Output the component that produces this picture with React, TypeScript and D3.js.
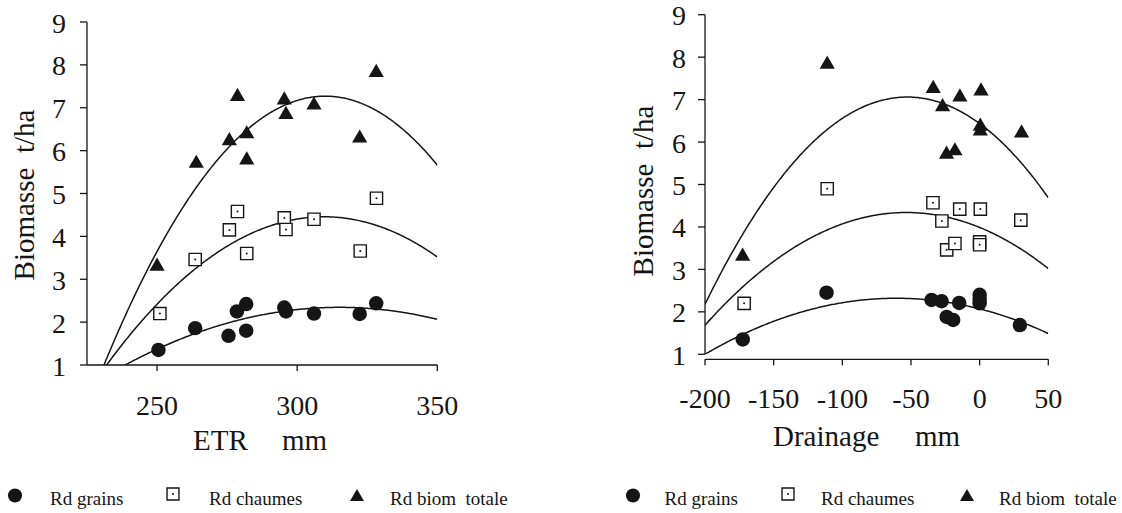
import React from "react";
import * as d3 from "d3";

// shared axis ticks and legend
const biomasseTicks = [1, 2, 3, 4, 5, 6, 7, 8, 9];
const etrTicks = [250, 300, 350];
const drainageTicks = [-200, -150, -100, -50, 0, 50];
const seriesNames = ["Rd grains", "Rd chaumes", "Rd biom  totale"];

// left panel : biomasse vs ETR (mm)
const grainsEtr = [250.5, 263.6, 275.5, 278.5, 281.8, 281.8, 295.4, 296, 306, 322.3, 328.2];
const grainsEtrY = [1.35, 1.86, 1.68, 2.25, 2.42, 1.8, 2.34, 2.25, 2.2, 2.19, 2.44];
const chaumesEtr = [251, 263.6, 275.8, 278.7, 282, 295.4, 296, 306, 322.5, 328.3];
const chaumesEtrY = [2.2, 3.46, 4.15, 4.58, 3.6, 4.43, 4.16, 4.4, 3.66, 4.89];
const totaleEtr = [250, 264, 275.8, 278.7, 282, 282, 295.4, 296, 306, 322.3, 328.2];
const totaleEtrY = [3.3, 5.7, 6.23, 7.26, 6.39, 5.78, 7.18, 6.84, 7.06, 6.29, 7.82];

// right panel : biomasse vs drainage (mm)
const grainsDrain = [-172.5, -111.5, -35, -27.7, -24, -19.3, -14.9, 0, 0, 0, 29.3];
const grainsDrainY = [1.35, 2.45, 2.28, 2.25, 1.88, 1.81, 2.21, 2.4, 2.3, 2.2, 1.69];
const chaumesDrain = [-171.5, -111, -34, -27.5, -24, -18, -14.5, 0.5, 0, 0, 30];
const chaumesDrainY = [2.2, 4.9, 4.57, 4.14, 3.46, 3.61, 4.42, 4.42, 3.65, 3.58, 4.16];
const totaleDrain = [-172.6, -111, -33.8, -27, -24.1, -18, -14.4, 1, 0.5, 0.5, 30.5];
const totaleDrainY = [3.31, 7.83, 7.26, 6.83, 5.71, 5.79, 7.06, 7.2, 6.37, 6.26, 6.21];

// polynomial trend lines: [vertex x, vertex y, curvature]
const grainsEtrTrend = [315.1, 2.345, -0.00023];
const chaumesEtrTrend = [309.6, 4.457, -0.000574];
const totaleEtrTrend = [310, 7.27, -0.001006];
const grainsDrainTrend = [-60.6, 2.32, -0.0000679];
const chaumesDrainTrend = [-53.4, 4.34, -0.0001235];
const totaleDrainTrend = [-52.7, 7.06, -0.000225];

const FONT = "Liberation Serif, Tinos, Times New Roman, DejaVu Serif, serif";
const INK = "#151515";

const shapes = [d3.symbolCircle, d3.symbolSquare, d3.symbolTriangle];
const sizes = [165, 170, 100];

function Marker({ kind, x, y, scale = 1 }) {
  const d = d3.symbol(shapes[kind], sizes[kind] * scale)();
  if (kind === 1) {
    return (
      <g transform={`translate(${x},${y})`}>
        <path d={d3.symbol(d3.symbolSquare, 150 * scale)()} fill="white" stroke={INK} strokeWidth={1.4} />
        <circle r={1} fill={INK} />
      </g>
    );
  }
  return <path d={d} transform={`translate(${x},${y})`} fill={INK} />;
}

function Panel({ id, x, y, xAxisY, xTicks, series, trends, xTitle, titleY, xLabelY, yLabelX, yTitleX, yTitleY, legend }) {
  const [x0, x1] = x.range();
  const [y0, y1] = y.range();
  const [d0, d1] = x.domain();
  const curve = d3
    .line()
    .x((p) => x(p[0]))
    .y((p) => y(p[1]));
  const samples = d3.range(0, 301).map((i) => d0 + ((d1 - d0) * i) / 300);
  return (
    <g>
      <defs>
        <clipPath id={id}>
          <rect x={x0} y={y1} width={x1 - x0} height={y0 - y1} />
        </clipPath>
      </defs>
      {/* y axis */}
      <line x1={x0} x2={x0} y1={y1} y2={y0} stroke={INK} strokeWidth={1.3} />
      {biomasseTicks.map((t) => (
        <g key={t}>
          <line x1={x0 - 7} x2={x0} y1={y(t)} y2={y(t)} stroke={INK} strokeWidth={1.3} />
          <text x={yLabelX} y={y(t) + 10.5} textAnchor="end" fontSize={28}>
            {t}
          </text>
        </g>
      ))}
      <text
        transform={`translate(${yTitleX},${yTitleY}) rotate(-90)`}
        textAnchor="middle"
        fontSize={29}
        style={{ whiteSpace: "pre" }}
      >
        {"Biomasse  t/ha"}
      </text>
      {/* x axis */}
      <line x1={x0} x2={x1} y1={xAxisY} y2={xAxisY} stroke={INK} strokeWidth={1.3} />
      {xTicks.map((t) => (
        <g key={t}>
          <line x1={x(t)} x2={x(t)} y1={xAxisY} y2={xAxisY + 6} stroke={INK} strokeWidth={1.3} />
          <text x={x(t)} y={xLabelY} textAnchor="middle" fontSize={28}>
            {t}
          </text>
        </g>
      ))}
      {xTitle.map((w) => (
        <text key={w.text} x={w.x} y={titleY} fontSize={29}>
          {w.text}
        </text>
      ))}
      {/* trend curves */}
      <g clipPath={`url(#${id})`}>
        {trends.map((tr, i) => (
          <path
            key={i}
            d={curve(samples.map((v) => [v, tr[1] + tr[2] * (v - tr[0]) ** 2]))}
            fill="none"
            stroke={INK}
            strokeWidth={1.5}
          />
        ))}
      </g>
      {/* points */}
      {series.map((s, k) =>
        s.xs.map((v, i) => <Marker key={`${k}-${i}`} kind={k} x={x(v)} y={y(s.ys[i])} />)
      )}
      {/* legend */}
      {legend.map((l, k) => (
        <g key={k}>
          <Marker kind={k} x={l.mx} y={l.my} scale={k === 2 ? 0.85 : 0.95} />
          <text x={l.tx} y={505} fontSize={19} style={{ whiteSpace: "pre" }}>
            {seriesNames[k]}
          </text>
        </g>
      ))}
    </g>
  );
}

export default function App() {
  const xEtr = d3.scaleLinear().domain([225, 350]).range([87, 437.3]);
  const yEtr = d3.scaleLinear().domain([1, 9]).range([365, 22]);
  const xDrain = d3.scaleLinear().domain([-200, 50]).range([705, 1048.3]);
  const yDrain = d3.scaleLinear().domain([1, 9]).range([354.3, 14.7]);

  return (
    <svg
      width={1122}
      height={513}
      style={{ position: "absolute", left: 0, top: 0, background: "white", fontFamily: FONT }}
      fill={INK}
    >
      <Panel
        id="clip-etr"
        x={xEtr}
        y={yEtr}
        xAxisY={365}
        xTicks={etrTicks}
        series={[
          { xs: grainsEtr, ys: grainsEtrY },
          { xs: chaumesEtr, ys: chaumesEtrY },
          { xs: totaleEtr, ys: totaleEtrY },
        ]}
        trends={[grainsEtrTrend, chaumesEtrTrend, totaleEtrTrend]}
        xTitle={[
          { text: "ETR", x: 193 },
          { text: "mm", x: 282 },
        ]}
        titleY={450}
        xLabelY={415}
        yLabelX={66}
        yTitleX={34}
        yTitleY={195}
        legend={[
          { mx: 15, my: 495.5, tx: 50 },
          { mx: 173, my: 494, tx: 209 },
          { mx: 357, my: 497, tx: 390 },
        ]}
      />
      <Panel
        id="clip-drain"
        x={xDrain}
        y={yDrain}
        xAxisY={359.3}
        xTicks={drainageTicks}
        series={[
          { xs: grainsDrain, ys: grainsDrainY },
          { xs: chaumesDrain, ys: chaumesDrainY },
          { xs: totaleDrain, ys: totaleDrainY },
        ]}
        trends={[grainsDrainTrend, chaumesDrainTrend, totaleDrainTrend]}
        xTitle={[
          { text: "Drainage", x: 773 },
          { text: "mm", x: 915 },
        ]}
        titleY={446}
        xLabelY={408}
        yLabelX={686}
        yTitleX={653}
        yTitleY={191}
        legend={[
          { mx: 633, my: 495.5, tx: 664.5 },
          { mx: 788, my: 494, tx: 821 },
          { mx: 967, my: 497, tx: 999 },
        ]}
      />
    </svg>
  );
}
